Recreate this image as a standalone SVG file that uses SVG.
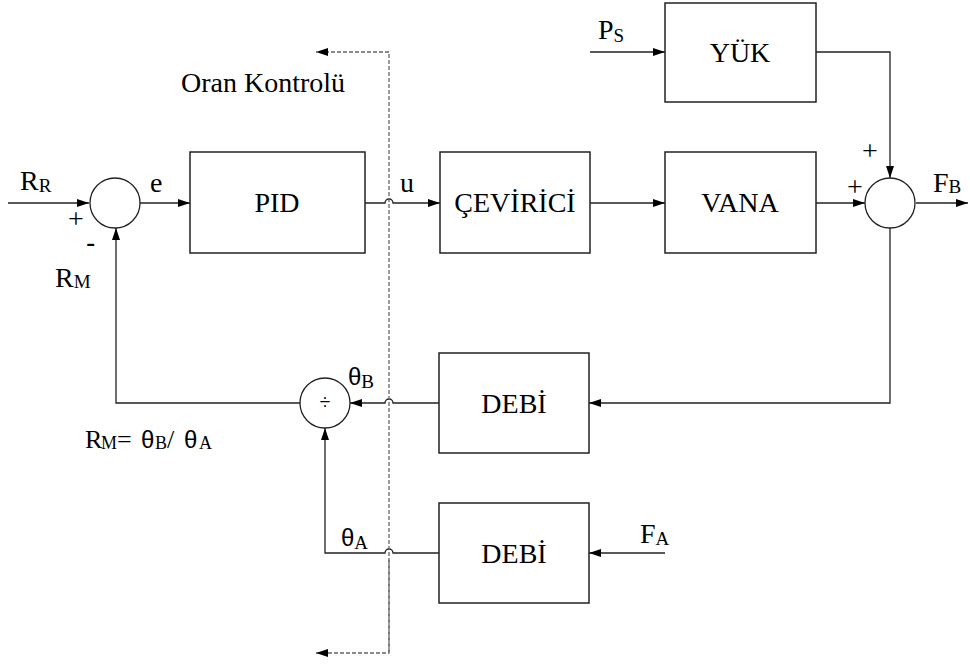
<svg xmlns="http://www.w3.org/2000/svg" width="970" height="666" viewBox="0 0 970 666">
<defs>
<marker id="ar" viewBox="0 0 12 8" refX="12" refY="4" markerWidth="12" markerHeight="8" markerUnits="userSpaceOnUse" orient="auto">
<path d="M0,0 L12,4 L0,8 Z" fill="#000"/>
</marker>
</defs>
<style>
.box{fill:#fff;stroke:#222;stroke-width:1.5}
.ln{fill:none;stroke:#222;stroke-width:1.3}
.dash{fill:none;stroke:#666;stroke-width:1.3;stroke-dasharray:4,2}
</style>
<rect width="970" height="666" fill="#fff"/>

<g id="connectors">
<path class="ln" d="M8,203 H89" marker-end="url(#ar)"/>
<path class="ln" d="M140,203 H190" marker-end="url(#ar)"/>
<path class="ln" d="M365,203 H385 a4,4 0 0 1 8,0 H440" marker-end="url(#ar)"/>
<path class="ln" d="M590,203 H665" marker-end="url(#ar)"/>
<path class="ln" d="M816,203 H865" marker-end="url(#ar)"/>
<path class="ln" d="M916,203 H968" marker-end="url(#ar)"/>
<path class="ln" d="M590,52 H665" marker-end="url(#ar)"/>
<path class="ln" d="M816,52 H890 V178" marker-end="url(#ar)"/>
<path class="ln" d="M890,228 V403 H589" marker-end="url(#ar)"/>
<path class="ln" d="M439,403 H393 a4,4 0 0 0 -8,0 H350" marker-end="url(#ar)"/>
<path class="ln" d="M300,403 H116 V228" marker-end="url(#ar)"/>
<path class="ln" d="M665,553 H589" marker-end="url(#ar)"/>
<path class="ln" d="M439,553 H393 a4,4 0 0 0 -8,0 H325 V428" marker-end="url(#ar)"/>
<path class="dash" d="M389,652 V52 H316" marker-end="url(#ar)"/>
<path class="dash" d="M389,560 V653 H316" marker-end="url(#ar)"/>
</g>

<g id="sum1"><circle cx="115" cy="203" r="25" fill="#fff" stroke="#222" stroke-width="1.3"/></g>
<g id="sum2"><circle cx="890" cy="203" r="25" fill="#fff" stroke="#222" stroke-width="1.3"/></g>
<g id="div"><circle cx="325" cy="403" r="25" fill="#fff" stroke="#222" stroke-width="1.3"/>
<text x="325" y="409" text-anchor="middle" font-family="Liberation Serif, serif" font-size="20" fill="#000">÷</text></g>

<g font-family="Liberation Serif, serif" font-size="28" fill="#000" text-anchor="middle">
<g id="pid"><rect class="box" x="190" y="152" width="175" height="101"/><text x="277" y="212">PID</text></g>
<g id="ceviri"><rect class="box" x="440" y="152" width="150" height="101"/><text x="515" y="212">ÇEVİRİCİ</text></g>
<g id="vana"><rect class="box" x="665" y="152" width="151" height="101"/><text x="740" y="212">VANA</text></g>
<g id="yuk"><rect class="box" x="665" y="3" width="151" height="99"/><text x="740" y="62">YÜK</text></g>
<g id="debi1"><rect class="box" x="439" y="353" width="150" height="100"/><text x="514" y="413">DEBİ</text></g>
<g id="debi2"><rect class="box" x="439" y="503" width="150" height="100"/><text x="514" y="563">DEBİ</text></g>
</g>

<g id="labels" font-family="Liberation Serif, serif" font-size="28" fill="#000">
<text x="181" y="92">Oran Kontrolü</text>
<text x="20" y="190">R<tspan font-size="19" dy="2">R</tspan></text>
<text x="150" y="192">e</text>
<text x="400" y="192">u</text>
<text x="68" y="228">+</text>
<text x="86" y="252" font-family="Liberation Sans, sans-serif">-</text>
<text x="55" y="287">R<tspan font-size="19" dy="1">M</tspan></text>
<text x="598" y="39">P<tspan font-size="19" dy="3">S</tspan></text>
<text x="862" y="160">+</text>
<text x="847" y="196">+</text>
<text x="933" y="192">F<tspan font-size="19" dy="1">B</tspan></text>
<text x="348" y="385" font-family="Liberation Sans, sans-serif" font-size="24">θ<tspan font-family="Liberation Serif, serif" font-size="19" dy="3">B</tspan></text>
<text x="341" y="546" font-family="Liberation Sans, sans-serif" font-size="24">θ<tspan font-family="Liberation Serif, serif" font-size="19" dy="3">A</tspan></text>
<text x="640" y="543">F<tspan font-size="19" dy="2">A</tspan></text>
<text y="448" font-size="26"><tspan x="85">R</tspan><tspan x="101" font-size="18" dy="1">M</tspan><tspan x="117" dy="-1">=</tspan><tspan x="141" font-family="Liberation Sans, sans-serif" font-size="24">θ</tspan><tspan x="155" font-size="18" dy="1">B</tspan><tspan x="167" dy="-1">/</tspan><tspan x="184" font-family="Liberation Sans, sans-serif" font-size="24">θ</tspan><tspan x="199" font-size="18" dy="1">A</tspan></text>
</g>
</svg>
